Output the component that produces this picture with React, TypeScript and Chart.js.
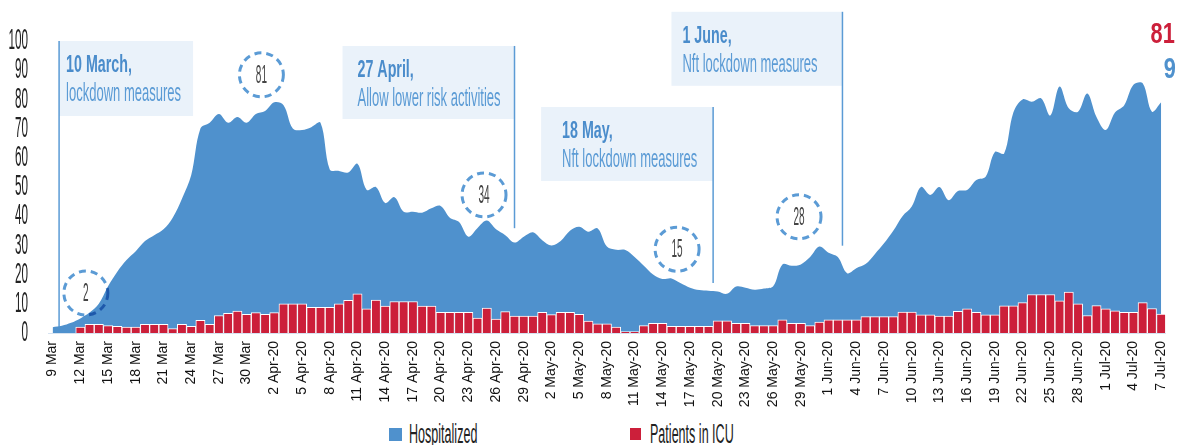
import React, { useEffect, useRef } from "react";
import { Chart, registerables } from "chart.js";

Chart.register(...registerables);

// ---------- data ----------
const monthRuns = [
  { month: "Mar", from: 9, to: 31, suffix: "" },
  { month: "Apr", from: 1, to: 30, suffix: "-20" },
  { month: "May", from: 1, to: 31, suffix: "-20" },
  { month: "Jun", from: 1, to: 30, suffix: "-20" },
  { month: "Jul", from: 1, to: 7, suffix: "-20" },
];
const categories: string[] = [];
monthRuns.forEach((r) => {
  for (let d = r.from; d <= r.to; d++) categories.push(`${d} ${r.month}${r.suffix}`);
});

const tickLabels = [
  "9 Mar", "12 Mar", "15 Mar", "18 Mar", "21 Mar", "24 Mar", "27 Mar", "30 Mar",
  "2 Apr-20", "5 Apr-20", "8 Apr-20", "11 Apr-20", "14 Apr-20", "17 Apr-20", "20 Apr-20",
  "23 Apr-20", "26 Apr-20", "29 Apr-20", "2 May-20", "5 May-20", "8 May-20", "11 May-20",
  "14 May-20", "17 May-20", "20 May-20", "23 May-20", "26 May-20", "29 May-20", "1 Jun-20",
  "4 Jun-20", "7 Jun-20", "10 Jun-20", "13 Jun-20", "16 Jun-20", "19 Jun-20", "22 Jun-20",
  "25 Jun-20", "28 Jun-20", "1 Jul-20", "4 Jul-20", "7 Jul-20",
];

const hospitalized = [
  2, 2.5, 3.5, 5, 7, 10, 16, 21, 25, 28,
  31.5, 33.5, 35.5, 39.5, 46, 54, 70, 72, 75, 72,
  74, 72, 75, 76, 79, 78, 70, 69.5, 70.5, 72,
  56, 55.5, 55, 58, 49, 50, 44.5, 46.5, 41.5, 41.5,
  41.2, 42.7, 43.5, 39.5, 38, 33, 36, 38.5, 35.5, 33.5,
  31, 33, 34.5, 31.8, 30, 31.5, 35, 36.4, 34.7, 35.8,
  29.6, 28.5, 28.4, 26, 23, 20, 18.5, 18.7, 17, 15.5,
  14.7, 14.5, 14.2, 13.4, 15.9, 15.5, 14.8, 15.2, 16, 23.5,
  23, 23.5, 26, 29.6, 27.5, 26, 20.5, 22.2, 23.6, 27,
  30.7, 35, 40, 43.3, 50, 47.3, 50, 45.5, 48.6, 49,
  52.4, 53.5, 62, 61.5, 75.5, 80, 79.2, 80.4, 74.5, 84.4,
  77, 75.8, 82, 74, 69.5, 75.5, 78, 85, 85.5, 75.8,
  79,
];

const icuPatients = [
  null, null, null,
  2, 3, 3, 2.5, 2.3, 2, 2, 3, 3, 3,
  1.5, 3, 2.3, 4.3, 3, 6, 6.7, 7.5, 6.4, 7,
  6.4, 7, 10, 10, 10, 8.8, 8.8, 8.8, 10, 11.2,
  13.4, 8.3, 11.3, 9.2, 10.8, 10.8, 10.8, 9.2, 9.2, 7.1,
  7.1, 7.1, 7.1, 5.1, 8.5, 4.8, 7.3, 5.8, 5.8, 5.8,
  7.1, 6.3, 7.1, 7.1, 6.4, 4.1, 3.1, 3.1, 2, 0.5,
  0.5, 2.5, 3.3, 3.3, 2.3, 2.3, 2.3, 2.3, 2.3, 4.2,
  4.2, 3.3, 3.3, 2.5, 2.5, 2.5, 4.5, 3.3, 3.3, 2.5,
  3.7, 4.5, 4.5, 4.5, 4.5, 5.6, 5.6, 5.6, 5.6, 7.2,
  7.2, 6.2, 6.2, 5.8, 5.8, 7.4, 8.3, 7.1, 6.2, 6.2,
  9.3, 9.3, 10.4, 13.2, 13.2, 13.2, 11, 14, 10, 6,
  9.4, 8.3, 7.6, 7.1, 7.1, 10.4, 8.4, 6.5,
];

const seriesNames = ["Hospitalized", "Patients in ICU"];

const milestones = [
  { date: "10 Mar", title: "10 March,", note: "lockdown measures" },
  { date: "27 Apr-20", title: "27 April,", note: "Allow lower risk activities" },
  { date: "18 May-20", title: "18 May,", note: "Nft lockdown measures" },
  { date: "1 Jun-20", title: "1 June,", note: "Nft lockdown measures" },
];

const calloutLabels = ["2", "81", "34", "15", "28"];
const headlineFigures = ["81", "9"];

// ---------- styling / layout ----------
const TEXT_FONT = "'Liberation Sans', Arial, sans-serif";
const TICK_FONT = "'Liberation Sans Narrow', 'Liberation Sans', Arial, sans-serif";
const BLUE = "#4F91CD";
const RED = "#CC1F3A";
const BOX_FILL = "#EAF2FA";
const LINE_COLOR = "#5B9BD5";
const TITLE_COLOR = "#4A8CCB";
const NOTE_COLOR = "#5B9BD5";
const CIRCLE_COLOR = "#5B9BD5";

// box geometry (shift = small horizontal nudge of the marker line, in days)
const milestoneBoxes = [
  { side: "right", width: 134, top: 100, height: 75, inset: 7, toBase: true, shift: -0.3 },
  { side: "left", width: 172, top: 98.3, height: 73, inset: 15, toBase: false, shift: 1 },
  { side: "left", width: 172, top: 77.4, height: 74, inset: 21, toBase: false, shift: 1.5 },
  { side: "left", width: 171, top: 110, height: 74, inset: 11, toBase: false, shift: 1.5 },
];

const calloutPlaces = [
  { at: 3.6, level: 13.7 },
  { at: 22.6, level: 88.4 },
  { at: 46.7, level: 47.3 },
  { at: 67.6, level: 28.7 },
  { at: 80.8, level: 39.8 },
];

function drawText(
  ctx: CanvasRenderingContext2D,
  text: string,
  x: number,
  y: number,
  font: string,
  color: string,
  sx: number,
  align: CanvasTextAlign = "left",
  baseline: CanvasTextBaseline = "alphabetic"
) {
  ctx.save();
  ctx.font = font;
  ctx.fillStyle = color;
  ctx.textAlign = align;
  ctx.textBaseline = baseline;
  ctx.translate(x, y);
  ctx.scale(sx, 1);
  ctx.fillText(text, 0, 0);
  ctx.restore();
}

const overlayPlugin = {
  id: "overlay",
  beforeDatasetsDraw(chart: any) {
    const { ctx } = chart;
    const x = chart.scales.x;
    const y = chart.scales.y;
    milestones.forEach((m, k) => {
      const b = milestoneBoxes[k];
      const idx = categories.indexOf(m.date);
      const lx = x.getPixelForValue(idx + b.shift);
      const top = y.getPixelForValue(b.top);
      const left = b.side === "right" ? lx : lx - b.width;
      ctx.save();
      ctx.fillStyle = BOX_FILL;
      ctx.fillRect(left, top, b.width, b.height);
      const bottom = b.toBase ? y.getPixelForValue(0) : y.getPixelForValue(hospitalized[idx]) - 7;
      ctx.strokeStyle = LINE_COLOR;
      ctx.lineWidth = 1.5;
      ctx.beginPath();
      ctx.moveTo(lx, top);
      ctx.lineTo(lx, bottom);
      ctx.stroke();
      ctx.restore();
      drawText(ctx, m.title, left + b.inset, top + 31, `bold 23px ${TEXT_FONT}`, TITLE_COLOR, 0.62);
      drawText(ctx, m.note, left + b.inset, top + 60, `26px ${TEXT_FONT}`, NOTE_COLOR, 0.5);
    });
  },
  afterDatasetsDraw(chart: any) {
    const { ctx, chartArea } = chart;
    const x = chart.scales.x;
    const y = chart.scales.y;
    // y tick labels from the library's scale
    y.ticks.forEach((t: any) => {
      drawText(ctx, String(t.value), chartArea.left - 20, y.getPixelForValue(t.value), `30px ${TEXT_FONT}`, "#222", 0.39, "right", "middle");
    });
    // callout circles
    calloutLabels.forEach((label, k) => {
      const p = calloutPlaces[k];
      const cx = x.getPixelForValue(p.at);
      const cy = y.getPixelForValue(p.level);
      ctx.save();
      ctx.globalCompositeOperation = "multiply";
      ctx.setLineDash([7, 5]);
      ctx.lineWidth = 3;
      ctx.strokeStyle = CIRCLE_COLOR;
      ctx.beginPath();
      ctx.arc(cx, cy, 22, 0, Math.PI * 2);
      ctx.stroke();
      ctx.restore();
      drawText(ctx, label, cx, cy + 1, `25px ${TEXT_FONT}`, "#444", 0.4, "center", "middle");
    });
    // headline figures
    drawText(ctx, headlineFigures[0], chartArea.right + 9, 35, `bold 29px ${TEXT_FONT}`, RED, 0.75, "right");
    drawText(ctx, headlineFigures[1], chartArea.right + 10, 70, `bold 29px ${TEXT_FONT}`, BLUE, 0.75, "right");
  },
};

const legendPlaces = [
  { left: 381, top: 420, w: 13, h: 13, textLeft: 401 },
  { left: 622, top: 420, w: 11, h: 12, textLeft: 642 },
];
const legendColors = [BLUE, RED];

export default function App() {
  const canvasRef = useRef<HTMLCanvasElement | null>(null);

  useEffect(() => {
    if (!canvasRef.current) return;
    const chart = new Chart(canvasRef.current, {
      type: "bar",
      data: {
        labels: categories,
        datasets: [
          {
            type: "bar",
            label: seriesNames[1],
            data: icuPatients as any,
            backgroundColor: RED,
            borderColor: "#ffffff",
            borderWidth: 1,
            barPercentage: 1,
            categoryPercentage: 1,
            order: 0,
          },
          {
            type: "line",
            label: seriesNames[0],
            data: hospitalized,
            backgroundColor: BLUE,
            borderColor: BLUE,
            borderWidth: 0,
            pointRadius: 0,
            fill: "origin",
            tension: 0.35,
            order: 1,
          } as any,
        ],
      },
      options: {
        animation: false,
        responsive: true,
        maintainAspectRatio: false,
        layout: { padding: { top: 33, right: 11, left: 0, bottom: 0 } },
        plugins: {
          legend: { display: false },
          tooltip: { enabled: false },
        },
        scales: {
          x: {
            offset: true,
            grid: { display: false, drawTicks: false },
            border: { display: true, color: "#D6E3F1", width: 1 },
            ticks: {
              autoSkip: false,
              minRotation: 90,
              maxRotation: 90,
              padding: 8,
              color: "#111",
              font: { family: TICK_FONT, size: 14 },
              callback: (_v: any, i: number) => (tickLabels.includes(categories[i]) ? categories[i] : ""),
            },
            afterFit: (scale: any) => {
              scale.height = 75;
            },
          },
          y: {
            min: 0,
            max: 100,
            grid: { display: false, drawTicks: false },
            border: { display: false },
            ticks: { display: false, stepSize: 10 },
            afterFit: (scale: any) => {
              scale.width = 40;
            },
          },
        },
      },
      plugins: [overlayPlugin],
    });
    return () => chart.destroy();
  }, []);

  return (
    <div style={{ position: "relative", width: 1178, height: 437 }}>
      <div style={{ position: "relative", width: 1178, height: 400 }}>
        <canvas ref={canvasRef} />
      </div>
      {seriesNames.map((name, k) => (
        <React.Fragment key={name}>
          <div
            style={{
              position: "absolute",
              left: legendPlaces[k].left,
              top: legendPlaces[k].top,
              width: legendPlaces[k].w,
              height: legendPlaces[k].h,
              background: legendColors[k],
            }}
          />
          <div
            style={{
              position: "absolute",
              left: legendPlaces[k].textLeft,
              top: 413,
              fontFamily: TEXT_FONT,
              fontSize: 27,
              lineHeight: "27px",
              color: "#222",
              whiteSpace: "nowrap",
              transform: "scaleX(0.465)",
              transformOrigin: "left center",
            }}
          >
            {name}
          </div>
        </React.Fragment>
      ))}
    </div>
  );
}
